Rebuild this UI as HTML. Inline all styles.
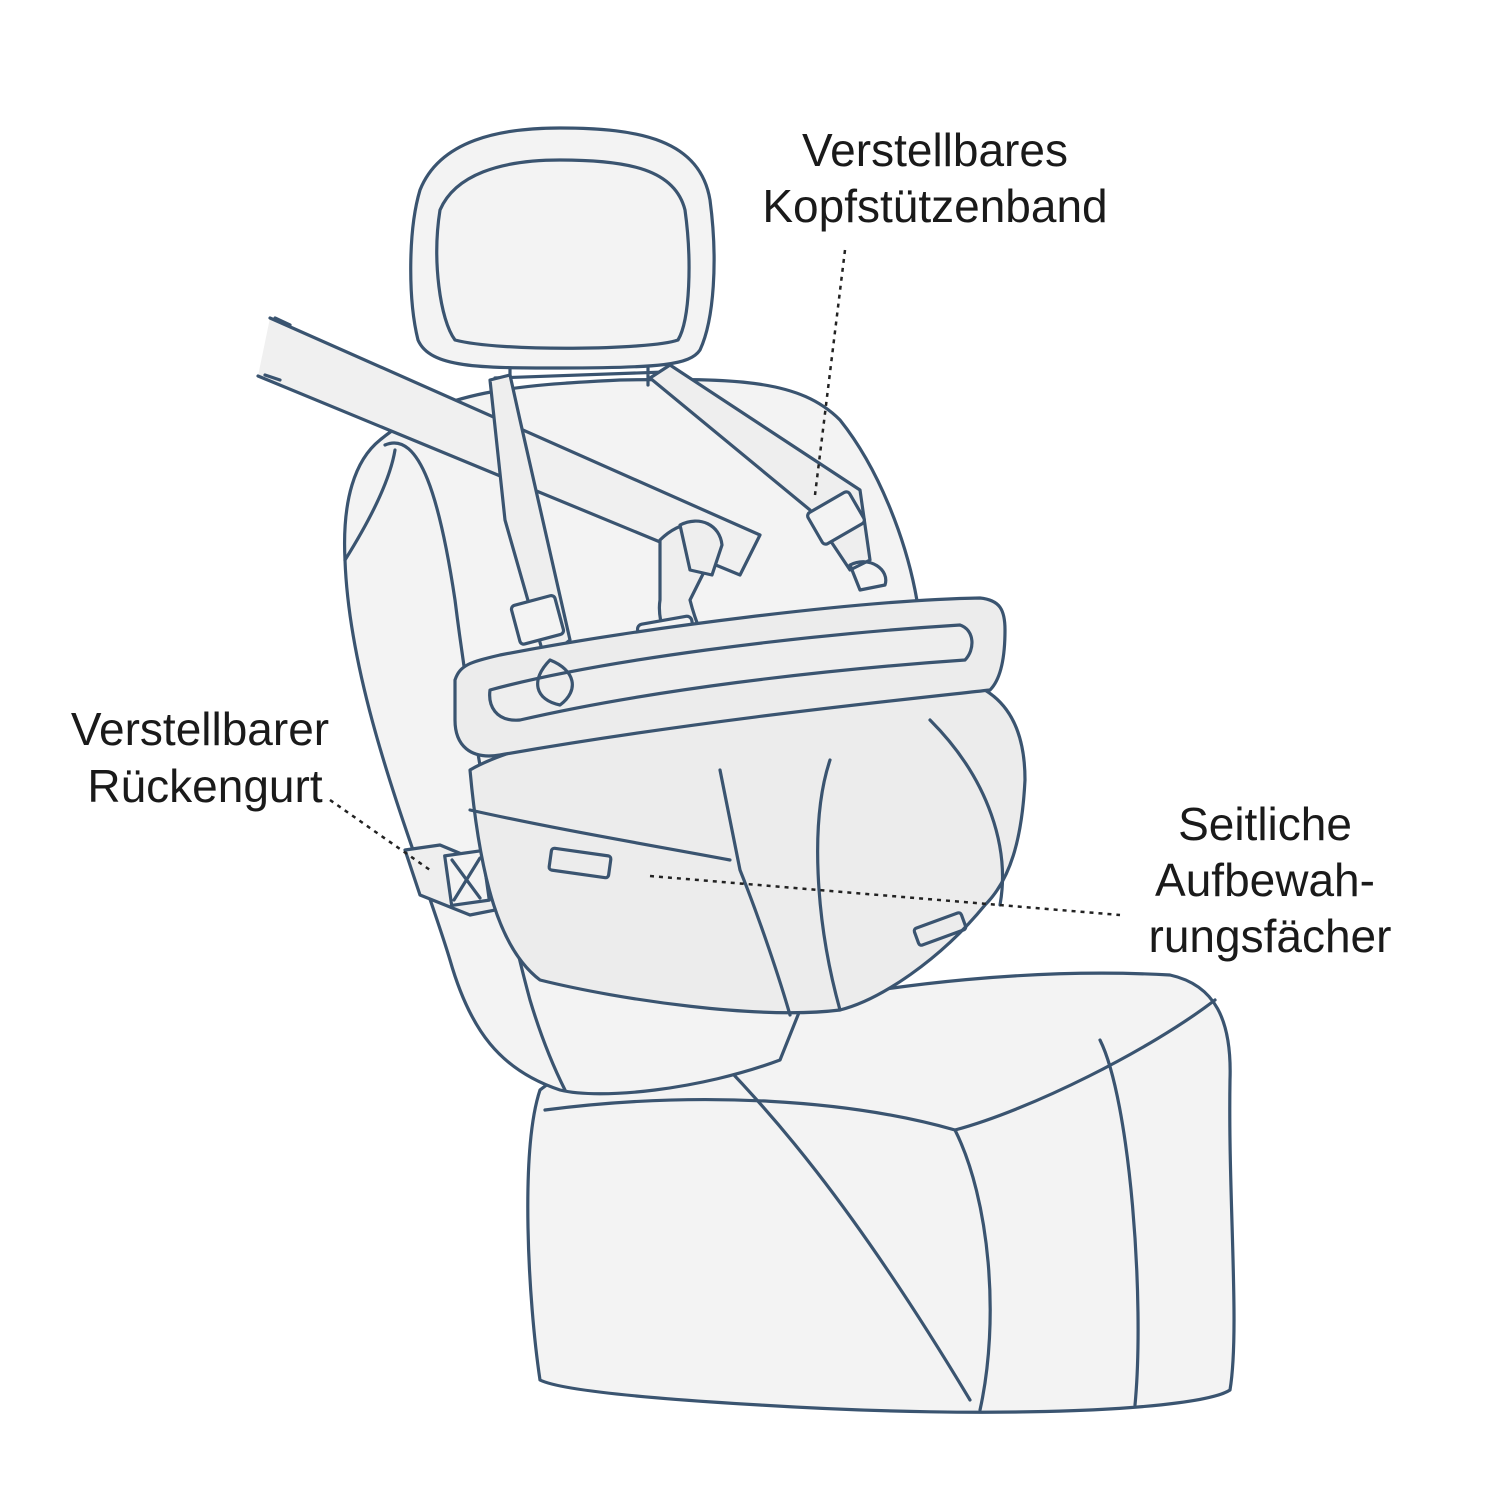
<!DOCTYPE html>
<html><head><meta charset="utf-8"><style>
html,body{margin:0;padding:0;background:#fff}
svg{display:block}
text{font-family:"Liberation Sans",sans-serif;font-size:46px;fill:#1a1a1a}
</style></head><body>
<svg width="1500" height="1500" viewBox="0 0 1500 1500" xmlns="http://www.w3.org/2000/svg">
<g stroke="#3a5470" stroke-width="3.2" stroke-linejoin="round" stroke-linecap="round" fill="#f3f3f3">
<!-- seat cushion -->
<path d="M540,1090 C600,1040 900,960 1170,975 C1215,985 1232,1020 1230,1080 C1228,1200 1240,1330 1230,1390 C1200,1410 1000,1420 760,1405 C640,1398 560,1390 540,1380 C528,1300 520,1150 540,1090 Z"/>
<path d="M545,1110 C700,1090 850,1100 955,1130 C1030,1110 1150,1050 1215,1000" fill="none"/>
<path d="M700,1040 C770,1110 850,1200 970,1400" fill="none"/>
<path d="M955,1130 C990,1200 1000,1320 980,1410" fill="none"/>
<path d="M1100,1040 C1130,1100 1145,1300 1135,1405" fill="none"/>
<!-- seat back -->
<path d="M380,440 C440,390 520,385 620,380 C740,378 800,380 840,420 C880,470 905,540 915,590 C925,640 925,680 920,700 L900,760 L780,1060 C700,1090 600,1100 560,1090 C500,1070 470,1030 450,960 C420,860 350,700 345,560 C342,500 355,460 380,440 Z"/>
<path d="M385,445 C420,430 440,500 455,600 C470,720 500,890 530,1000 C545,1050 560,1080 565,1090" fill="none"/>
<path d="M345,560 C370,520 390,480 395,450" fill="none"/>
<!-- belt across -->
<path d="M270,318 L760,535 L740,575 L258,376" fill="#f0f0f0"/>
<path d="M275,318 L290,325 M265,375 L280,380" fill="none"/>
<!-- back strap left -->
<path d="M405,850 L440,845 L500,870 L520,905 L470,915 L420,895 Z" fill="#eeeeee"/>
<rect x="448" y="853" width="38" height="50" fill="#f3f3f3" transform="rotate(-8 467 878)"/>
<path d="M452,860 L480,898 M480,858 L454,900" fill="none"/>
<!-- headrest -->
<path d="M420,190 C440,140 500,128 560,128 C640,128 700,140 710,200 C718,260 714,320 700,350 C690,365 660,368 560,368 C480,368 430,368 418,340 C408,300 408,230 420,190 Z"/>
<path d="M440,210 C455,175 500,160 560,160 C630,160 675,170 685,210 C692,260 690,320 678,340 C650,350 500,352 455,340 C440,320 432,260 440,210 Z" fill="none"/>
<path d="M510,368 L510,385 M648,368 L648,385 M495,378 L665,372" fill="none"/>
<!-- headrest straps (over belt) -->
<path d="M490,380 L510,375 L520,420 L570,640 L545,660 L505,520 Z" fill="#eeeeee"/>
<path d="M650,378 L670,365 L860,490 L870,560 L850,570 L810,510 Z" fill="#eeeeee"/>
<rect x="515" y="600" width="45" height="40" rx="4" transform="rotate(-15 537 620)"/>
<rect x="812" y="500" width="48" height="36" rx="4" transform="rotate(-30 836 518)"/>
<!-- center strap -->
<path d="M660,540 C680,520 710,515 720,540 L690,600 C700,640 720,670 730,700 L700,710 C680,670 655,630 660,600 Z" fill="#eeeeee"/>
<path d="M680,525 C700,515 720,525 722,545 L712,575 L690,570 Z" fill="#eeeeee"/>
<rect x="640" y="620" width="55" height="42" rx="5" transform="rotate(-10 667 641)"/>
<!-- basket -->
<path d="M470,770 C520,740 700,700 960,680 C1000,690 1025,720 1025,780 C1022,840 1010,880 985,905 C940,960 880,1000 840,1010 C760,1020 620,1000 540,980 C500,950 480,880 470,770 Z" fill="#ececec"/>
<path d="M455,680 C460,665 470,662 500,655 C640,628 860,600 980,598 C1000,600 1005,610 1005,630 C1005,660 1000,680 990,690 C900,700 700,720 500,755 C470,760 455,745 455,720 Z" fill="#ececec"/>
<path d="M490,690 C600,660 800,635 960,625 C975,630 975,650 965,660 C820,670 650,690 520,720 C495,722 488,705 490,690 Z" fill="#eeeeee"/>
<path d="M720,770 L740,870 C760,920 780,980 790,1015" fill="none"/>
<path d="M830,760 C810,820 815,920 840,1010" fill="none"/>
<path d="M930,720 C990,780 1010,850 1000,905" fill="none"/>
<path d="M470,810 C560,830 650,845 730,860" fill="none"/>
<rect x="550" y="852" width="60" height="22" rx="3" transform="rotate(8 580 863)" fill="none"/>
<rect x="915" y="920" width="50" height="18" rx="3" transform="rotate(-20 940 929)" fill="none"/>
<path d="M550,660 C530,680 535,700 560,705 C580,690 575,670 550,660 Z M850,565 C870,555 890,570 885,585 L860,590 Z" fill="none"/>
</g>
<!-- leader lines -->
<g stroke="#222" stroke-width="2.5" stroke-dasharray="4 5" fill="none">
<path d="M845,250 L815,495"/>
<path d="M330,800 L430,870"/>
<path d="M650,876 L1120,915"/>
</g>
<text x="935" y="166" text-anchor="middle">Verstellbares</text>
<text x="935" y="222" text-anchor="middle">Kopfstützenband</text>
<text x="200" y="745" text-anchor="middle">Verstellbarer</text>
<text x="205" y="802" text-anchor="middle">Rückengurt</text>
<text x="1265" y="840" text-anchor="middle">Seitliche</text>
<text x="1265" y="896" text-anchor="middle">Aufbewah-</text>
<text x="1270" y="952" text-anchor="middle">rungsfächer</text>
</svg>
</body></html>
